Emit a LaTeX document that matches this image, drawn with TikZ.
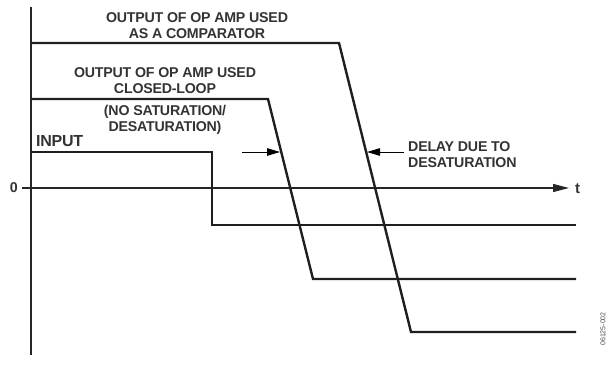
\documentclass[tikz,border=0pt]{standalone}
\usepackage{fontspec}
\setmainfont{Liberation Sans}
\newfontfamily\labfont[LetterSpace=-1.5]{Liberation Sans Bold}
\usetikzlibrary{arrows.meta}
\begin{document}
\begin{tikzpicture}[x=1pt,y=-1pt,
  axis/.style={line width=1.1pt,draw=black!85},
  trace/.style={line width=2.4pt,draw=black!88,line join=miter},
  lbl/.style={font=\labfont\fontsize{14.2}{15.5}\selectfont,inner sep=0pt,align=center,text=black!80},
  delay/.style={line width=1pt,-{Triangle[length=13pt,width=7.5pt]}}]
\useasboundingbox (0,0) rectangle (612,370);
% axes
\coordinate (ytop) at (31,7);
\coordinate (ybot) at (31,355);
\coordinate (xl) at (22,188);
\coordinate (xr) at (569,188);
\draw[axis] (ytop) -- (ybot);
\draw[axis,-{Triangle[length=16pt,width=8pt]}] (xl) -- (xr);
\node[lbl,anchor=west,font=\labfont\fontsize{15}{16}\selectfont] (tlab) at (575,189) {t};
\node[lbl,anchor=east] (zero) at (18,188) {0};
% comparator output
\draw[trace] (31,43) -- (339,43) -- (411,332) -- (576,332);
% closed-loop output
\draw[trace] (31,99) -- (268,99) -- (313,279) -- (576,279);
% input step
\draw[trace] (31,152) -- (212,152) -- (212,225) -- (576,225);
% delay arrows
\coordinate (da1) at (242,152);
\coordinate (db1) at (280,152);
\coordinate (da2) at (404,152);
\coordinate (db2) at (367,152);
\draw[delay] (da1) -- (db1);
\draw[delay] (da2) -- (db2);
% labels
\node[lbl] (cmp) at (197,25.5) {OUTPUT OF OP AMP USED\\AS A COMPARATOR};
\node[lbl] (cl) at (165,80.5) {OUTPUT OF OP AMP USED\\CLOSED-LOOP};
\node[lbl] (ns) at (165,120) {(NO SATURATION/\\DESATURATION)};
\node[lbl,anchor=west,font=\labfont\fontsize{16}{17}\selectfont] (inp) at (36,141) {INPUT};
\node[lbl,anchor=west,align=left] (dl) at (408,154.5) {DELAY DUE TO\\DESATURATION};
\node[lbl,rotate=90,font=\fontsize{7}{8}\selectfont,text=black!70] (fig) at (603,329) {06125-002};
\end{tikzpicture}
\end{document}
